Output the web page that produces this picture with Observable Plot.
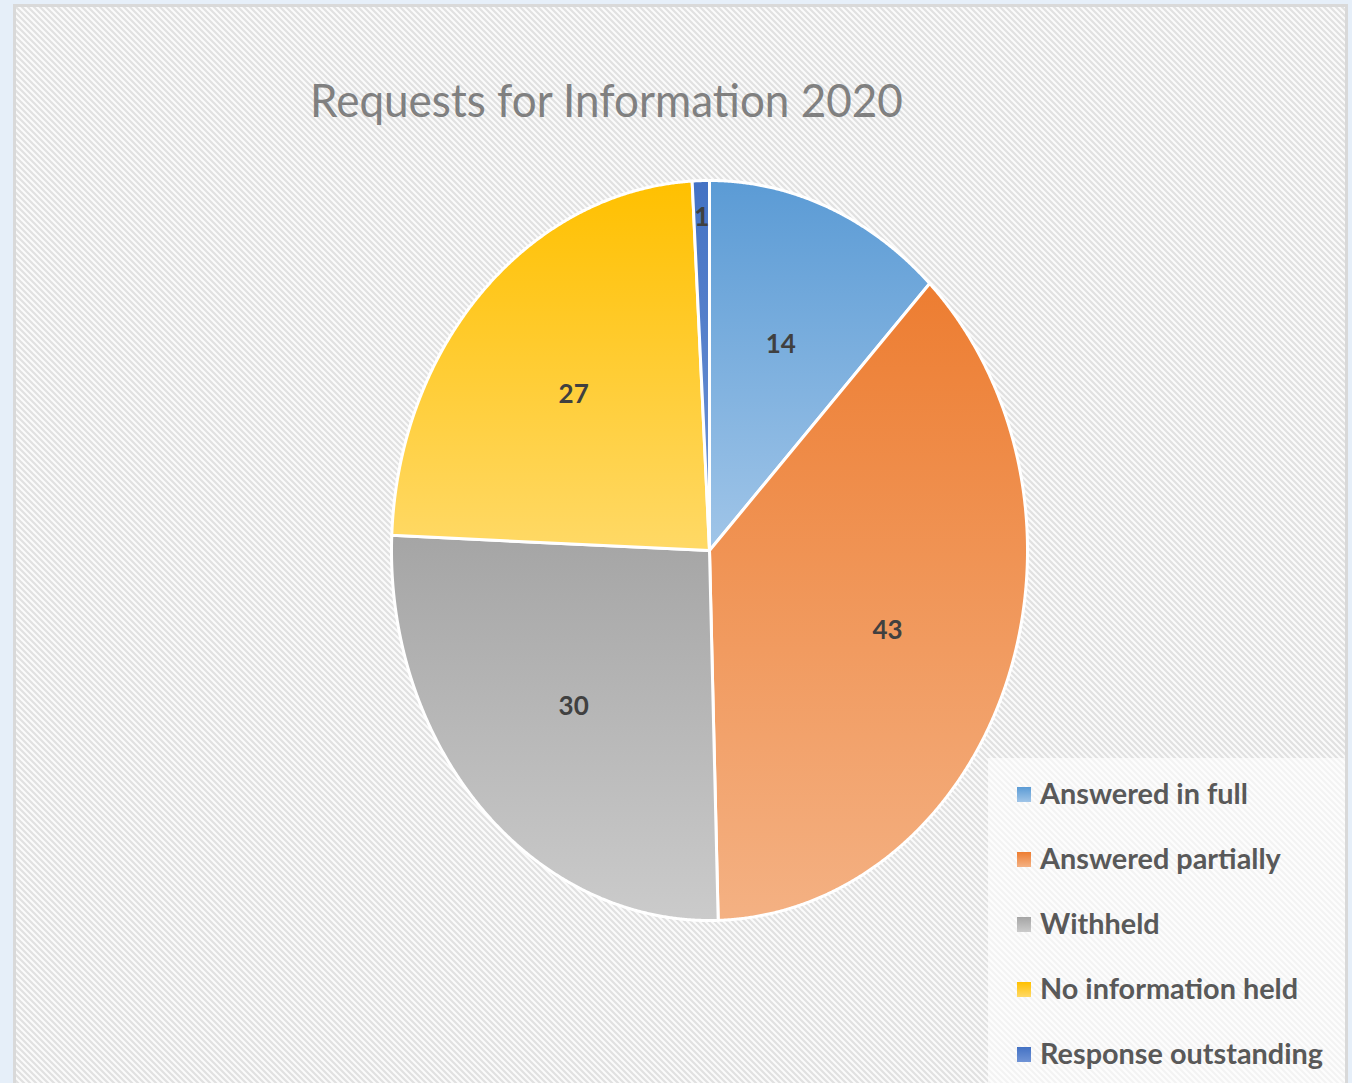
<!DOCTYPE html>
<html>
<head>
<meta charset="utf-8">
<script src="https://cdn.jsdelivr.net/npm/d3@7"></script>
<script src="https://cdn.jsdelivr.net/npm/@observablehq/plot@0.6"></script>
<style>
  html, body { margin: 0; padding: 0; background: #e6eff9; }
  #page { position: relative; width: 1352px; height: 1083px; overflow: hidden; background: #e6eff9; }
  #frame {
    position: absolute; left: 13px; top: 4px; width: 1329px; height: 1100px;
    border: 3px solid #d9d9d9;
    background-color: #fafafa;
    background-image: url("data:image/svg+xml,%3Csvg xmlns='http://www.w3.org/2000/svg' width='6' height='6'%3E%3Crect width='6' height='6' fill='%23fbfbfb'/%3E%3Cpath d='M-1,-1L7,7M-1,5L1,7M5,-1L7,1' stroke='%23e1e1e1' stroke-width='2.2'/%3E%3C/svg%3E");
    background-size: 6px 6px;
  }
  #chart, #overlay { position: absolute; left: 0; top: 0; }
</style>
</head>
<body>
<div id="page">
  <div id="frame"></div>
  <div id="chart"></div>
  <svg id="overlay" width="1352" height="1083"></svg>
</div>
<script>
const title = "Requests for Information 2020";
const categories = ["Answered in full", "Answered partially", "Withheld", "No information held", "Response outstanding"];
const values = [14, 43, 30, 27, 1];
const topColors = ["#5B9BD5", "#ED7D31", "#A5A5A5", "#FFC000", "#4472C4"];
const bottomColors = ["#A0C5E8", "#F4B183", "#CBCBCB", "#FFD966", "#7094D6"];

const rows = categories.map((c, i) => ({category: c, value: values[i]}));
const total = d3.sum(values);
const arcs = d3.pie().sort(null).value(d => d.value)(rows);

// slice outlines (from the pie angles), in unit-circle space
const pts = [];
for (const a of arcs) {
  const key = a.data.category;
  pts.push({key, x: 0, y: 0});
  const n = Math.max(2, Math.ceil((a.endAngle - a.startAngle) / 0.004));
  for (let k = 0; k <= n; k++) {
    const t = a.startAngle + (a.endAngle - a.startAngle) * k / n;
    pts.push({key, x: Math.sin(t), y: Math.cos(t)});
  }
  pts.push({key, x: 0, y: 0});
}

// data labels along mid-angle
const labels = arcs.map(a => {
  const mid = (a.startAngle + a.endAngle) / 2;
  const f = a.data.value / total < 0.02 ? 0.9 : 0.6;
  return {text: String(a.data.value), x: f * Math.sin(mid), y: f * Math.cos(mid)};
});

const chart = Plot.plot({
  width: 1352,
  height: 1083,
  margin: 0,
  x: {domain: [-1, 1], range: [391, 1027], axis: null},
  y: {domain: [-1, 1], range: [920, 180], axis: null},
  color: {type: "ordinal", domain: categories, range: categories.map((c, i) => `url(#grad${i})`)},
  style: {background: "transparent", overflow: "visible"},
  marks: [
    Plot.line(pts, {x: "x", y: "y", z: "key", fill: "key", stroke: "white", strokeWidth: 3, strokeLinejoin: "round"}),
    Plot.text(labels, {x: "x", y: "y", text: "text", fill: "#404040", fontSize: 26, fontWeight: "bold", fontFamily: "Lato"})
  ]
});

const defs = d3.select(chart).insert("defs", ":first-child");
categories.forEach((c, i) => {
  const g = defs.append("linearGradient").attr("id", `grad${i}`)
    .attr("x1", 0).attr("y1", 0).attr("x2", 0).attr("y2", 1);
  g.append("stop").attr("offset", "0%").attr("stop-color", topColors[i]);
  g.append("stop").attr("offset", "100%").attr("stop-color", bottomColors[i]);
});
document.getElementById("chart").appendChild(chart);

// title + legend overlay
const ov = d3.select("#overlay");
const odefs = ov.append("defs");
categories.forEach((c, i) => {
  const g = odefs.append("linearGradient").attr("id", `lgrad${i}`)
    .attr("x1", 0).attr("y1", 0).attr("x2", 0).attr("y2", 1);
  g.append("stop").attr("offset", "0%").attr("stop-color", topColors[i]);
  g.append("stop").attr("offset", "100%").attr("stop-color", bottomColors[i]);
});

const t = ov.append("text")
  .attr("x", 0).attr("y", 0)
  .attr("font-family", "Lato").attr("font-size", 46)
  .attr("fill", "#808080").text(title);
const tw = t.node().getComputedTextLength();
t.attr("transform", `translate(310,117) scale(${593 / tw},1)`);

ov.append("rect").attr("x", 988).attr("y", 758).attr("width", 357).attr("height", 330)
  .attr("fill", "rgba(255,255,255,0.6)");

const lg = ov.append("g");
const items = lg.selectAll("g").data(categories).join("g")
  .attr("transform", (d, i) => `translate(1017,${804 + i * 65})`);
items.append("rect").attr("x", 0).attr("y", -17).attr("width", 14).attr("height", 15)
  .attr("fill", (d, i) => `url(#lgrad${i})`);
const texts = items.append("text").attr("x", 0).attr("y", 0)
  .attr("font-family", "Lato").attr("font-size", 29).attr("font-weight", "bold")
  .attr("fill", "#595959").text(d => d);
const w0 = texts.node().getComputedTextLength();
const sx = 208 / w0;
texts.attr("transform", `translate(23,0) scale(${sx},1)`);
</script>
</body>
</html>
